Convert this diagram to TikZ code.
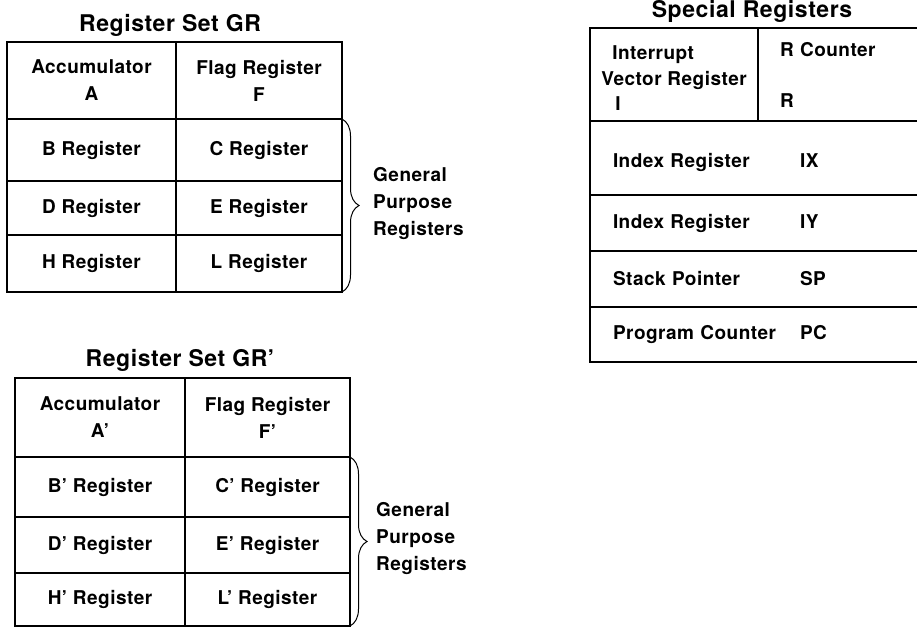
\documentclass[tikz,border=0pt]{standalone}
\usepackage{fontspec}
\setmainfont{TeX Gyre Heros}[LetterSpace=2.5]
\usetikzlibrary{positioning, decorations.pathreplacing}
\tikzstyle{reg} = [rectangle, draw=black, line width=1.5pt, inner sep=0pt, outer sep=0pt, text centered, align=center, font=\fontsize{19}{27}\selectfont\bfseries]
\tikzstyle{special} = [reg, align=left, text width=299pt, inner xsep=23pt]
\tikzstyle{settitle} = [inner sep=0pt, font=\fontsize{23}{27}\selectfont\bfseries]
\tikzstyle{gpr} = [inner sep=0pt, align=left, font=\fontsize{19}{27}\selectfont\bfseries]
\tikzstyle{gpbrace} = [decorate, decoration={brace, amplitude=17pt}, line width=1pt]

\begin{document}
\begin{tikzpicture}[x=1pt, y=-1pt]
		\useasboundingbox (0,0) rectangle (917,628);

		% Register Set GR
		\node [reg, anchor=north west, minimum width=169pt, minimum height=77pt] (gr-a) at (7,42) {Accumulator\\A};
		\node [reg, right=0pt of gr-a, minimum width=166pt, minimum height=77pt]	(gr-f)	{Flag Register\\F};
		\node [reg, below=0pt of gr-a, minimum width=169pt, minimum height=62pt]	(gr-b)	{B Register};
		\node [reg, right=0pt of gr-b, minimum width=166pt, minimum height=62pt]	(gr-c)	{C Register};
		\node [reg, below=0pt of gr-b, minimum width=169pt, minimum height=54pt]	(gr-d)	{D Register};
		\node [reg, right=0pt of gr-d, minimum width=166pt, minimum height=54pt]	(gr-e)	{E Register};
		\node [reg, below=0pt of gr-d, minimum width=169pt, minimum height=57pt]	(gr-h)	{H Register};
		\node [reg, right=0pt of gr-h, minimum width=166pt, minimum height=57pt]	(gr-l)	{L Register};
		\node [settitle, above=5pt of gr-a.north east, xshift=-6pt] (gr-title) {Register Set GR};
		\node [gpr, right=31pt of gr-e, yshift=4pt] (gr-gp) {General\\Purpose\\Registers};

		% Register Set GR'
		\node [reg, anchor=north west, minimum width=170pt, minimum height=79pt] (gr2-a) at (15,378) {Accumulator\\A'};
		\node [reg, right=0pt of gr2-a, minimum width=165pt, minimum height=79pt]	(gr2-f)	{Flag Register\\F'};
		\node [reg, below=0pt of gr2-a, minimum width=170pt, minimum height=60pt]	(gr2-b)	{B' Register};
		\node [reg, right=0pt of gr2-b, minimum width=165pt, minimum height=60pt]	(gr2-c)	{C' Register};
		\node [reg, below=0pt of gr2-b, minimum width=170pt, minimum height=56pt]	(gr2-d)	{D' Register};
		\node [reg, right=0pt of gr2-d, minimum width=165pt, minimum height=56pt]	(gr2-e)	{E' Register};
		\node [reg, below=0pt of gr2-d, minimum width=170pt, minimum height=53pt]	(gr2-h)	{H' Register};
		\node [reg, right=0pt of gr2-h, minimum width=165pt, minimum height=53pt]	(gr2-l)	{L' Register};
		\node [settitle, above=6pt of gr2-a.north east, xshift=-5pt] (gr2-title) {Register Set GR'};
		\node [gpr, right=26pt of gr2-e, yshift=6pt] (gr2-gp) {General\\Purpose\\Registers};

		% Special Registers
		\node [reg, anchor=north west, minimum width=168pt, minimum height=93pt, align=left, font=\fontsize{19}{25.5}\selectfont\bfseries] (sp-i) at (590,28) {\rule{0pt}{22pt}\hspace*{11pt}Interrupt\\Vector Register\\\hspace*{14pt}I};
		\node [reg, right=0pt of sp-i, text width=150pt, inner xsep=22pt, minimum height=93pt, align=left, font=\fontsize{19}{25.5}\selectfont\bfseries] (sp-r) {R Counter\\[25.5pt]R};
		\node [special, below=0pt of sp-i.south west, anchor=north west, minimum height=74pt, text height=24pt, text depth=4pt]	(sp-ix)	{\makebox[187pt][l]{Index Register}IX};
		\node [special, below=0pt of sp-ix, minimum height=56pt]	(sp-iy)	{\makebox[187pt][l]{Index Register}IY};
		\node [special, below=0pt of sp-iy, minimum height=56pt]	(sp-sp)	{\makebox[187pt][l]{Stack Pointer}SP};
		\node [special, below=0pt of sp-sp, minimum height=55pt]	(sp-pc)	{\makebox[187pt][l]{Program Counter}PC};
		\node [settitle, above=5pt of sp-i.north east, xshift=-6pt] (sp-title) {Special Registers};

		\draw [gpbrace] (gr-c.north east) -- (gr-l.south east);
		\draw [gpbrace] (gr2-c.north east) -- (gr2-l.south east);
	\end{tikzpicture}
\end{document}
